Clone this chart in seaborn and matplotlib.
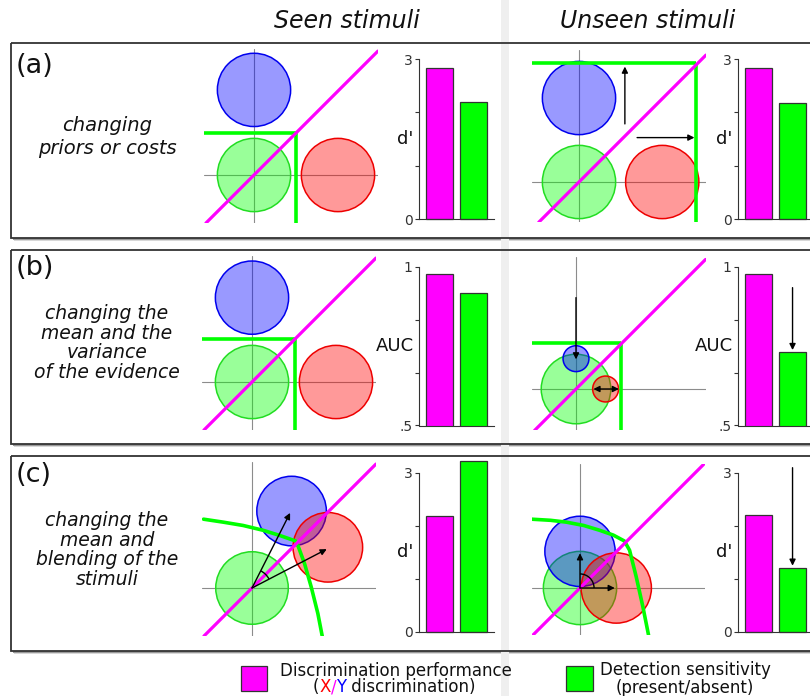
import numpy as np
import pandas as pd
import matplotlib
matplotlib.use("Agg")
import matplotlib.pyplot as plt
from matplotlib.patches import Rectangle, Circle, Arc
import seaborn as sns

# ---------------- data ----------------
col_titles = ["Seen stimuli", "Unseen stimuli"]
panel_tags = ["(a)", "(b)", "(c)"]
panel_texts = ["changing\npriors or costs",
               "changing the\nmean and the\nvariance\nof the evidence",
               "changing the\nmean and\nblending of the\nstimuli"]
bar_categories = ["Discrimination", "Detection"]
bar_metric = ["d'", "AUC", "d'"]
metric_ticks = {"d'": [0, 1, 2, 3], "AUC": [0.5, 2 / 3, 5 / 6, 1.0]}
metric_ticklabels = {"d'": ["0", "", "", "3"], "AUC": [".5", "", "", "1"]}
metric_lim = {"d'": (0, 3), "AUC": (0.5, 1.0)}
seen_discrim = [2.83, 0.977, 2.19]
seen_detect = [2.19, 0.916, 3.22]
unseen_discrim = [2.83, 0.977, 2.20]
unseen_detect = [2.18, 0.730, 1.20]
unseen_arrow_from = [None, 0.934, 3.10]

# evidence-space distributions: (x, y, radius)
seen_green = [(0, 0, 0.99), (0, 0, 0.99), (0, 0, 0.98)]
seen_blue = [(0, 2.30, 0.99), (0, 2.28, 0.99), (1.07, 2.08, 0.94)]
seen_red = [(2.27, 0, 0.99), (2.27, 0, 0.99), (2.05, 1.10, 0.94)]
unseen_green = [(0, 0, 0.99), (0, 0, 0.94), (0, 0, 0.99)]
unseen_blue = [(0, 2.27, 0.99), (0, 0.82, 0.35), (0, 0.99, 0.95)]
unseen_red = [(2.25, 0, 0.99), (0.80, 0, 0.35), (0.98, 0, 0.95)]
# detection criterion corner (x, y) for rows a, b
seen_criterion = [(1.14, 1.14), (1.17, 1.17), None]
unseen_criterion = [(3.17, 3.21), (1.21, 1.23), None]
# curved detection criterion for row c
seen_curve_x = [-1.31, -0.78, -0.24, 0.30, 0.75, 1.18, 1.24, 1.42, 1.60, 1.78, 1.90]
seen_curve_y = [1.86, 1.78, 1.69, 1.56, 1.42, 1.27, 1.15, 0.66, 0.03, -0.69, -1.31]
unseen_curve_x = [-1.31, -0.80, -0.37, 0.10, 0.53, 0.90, 1.20, 1.34, 1.52, 1.70, 1.86]
unseen_curve_y = [1.86, 1.83, 1.78, 1.69, 1.56, 1.43, 1.27, 1.02, 0.30, -0.51, -1.31]
legend_labels = ["Discrimination performance", "Detection sensitivity\n(present/absent)"]

# ---------------- style ----------------
sns.set_style("ticks")
plt.rcParams["font.family"] = ["DejaVu Sans"]
MAGENTA = "#ff00ff"
LIME = "#00ff00"
W, H = 810, 696
U = 37.0

fig = plt.figure(figsize=(W / 100, H / 100), dpi=100)
bg = fig.add_axes([0, 0, 1, 1])
bg.set_xlim(0, W)
bg.set_ylim(H, 0)
bg.axis("off")


def px_axes(l, t, w, h):
    return fig.add_axes([l / W, 1 - (t + h) / H, w / W, h / H])


# panel boxes with shadow
panel_tops = [43, 250, 456]
panel_h = [195, 194, 195]
for top, h in zip(panel_tops, panel_h):
    bg.add_patch(Rectangle((14, top + 3), 830, h, facecolor="#d8d8d8", edgecolor="none", zorder=1))
    bg.add_patch(Rectangle((12.5, top + 1.5), 830, h, facecolor="#9a9a9a", edgecolor="none", zorder=1.1))
    bg.add_patch(Rectangle((11, top), 830, h, facecolor="white", edgecolor="none", zorder=1.2))
bg.add_patch(Rectangle((501, 0), 8, H, facecolor="#efefef", edgecolor="none", zorder=1.3))
for top, h in zip(panel_tops, panel_h):
    bg.add_patch(Rectangle((11, top), 830, h, facecolor="none", edgecolor="#333333", lw=1.3, zorder=1.4))

# titles
bg.text(347, 21, col_titles[0], fontsize=17, style="italic", ha="center", va="center", color="#111")
bg.text(648, 21, col_titles[1], fontsize=17, style="italic", ha="center", va="center", color="#111")

tag_y = [66, 268, 475]
txt_y = [137, 343, 550]
txt_fs = [14, 13.5, 13.5]
txt_ls = [1.3, 1.04, 1.04]
for i in range(3):
    bg.text(16, tag_y[i], panel_tags[i], fontsize=19.5, ha="left", va="center", color="#111")
    bg.text(107, txt_y[i], panel_texts[i], fontsize=txt_fs[i], style="italic", ha="center",
            va="center", multialignment="center", linespacing=txt_ls[i], color="#111")

# ---------------- diagrams ----------------
seen_origin = [(254, 175), (252, 382), (252, 588)]
unseen_origin = [(579, 182), (576, 389), (580, 588)]
seen_ext = [(-1.35, 3.35, -1.30, 3.40)] * 3
unseen_ext = [(-1.27, 3.43, -1.09, 3.56), (-1.19, 3.50, -1.12, 3.57), (-1.31, 3.38, -1.28, 3.34)]


def arrow(ax, start, end, style="-|>"):
    ax.annotate("", xy=end, xytext=start,
                arrowprops=dict(arrowstyle=style, color="black", lw=1.0, mutation_scale=9,
                                shrinkA=0, shrinkB=0), zorder=6)


def diagram(origin, ext, green, blue, red, crit=None, curve=None):
    ox, oy = origin
    x0, x1, y0, y1 = ext
    ax = px_axes(ox + x0 * U, oy - y1 * U, (x1 - x0) * U, (y1 - y0) * U)
    ax.set_xlim(x0, x1)
    ax.set_ylim(y0, y1)
    ax.axis("off")
    ax.patch.set_visible(False)
    ax.plot([x0, x1], [0, 0], color="#8c8c8c", lw=0.8, zorder=1)
    ax.plot([0, 0], [y0, y1], color="#8c8c8c", lw=0.8, zorder=1)
    for (cx, cy, r), fc, ec in [(green, (0, 1, 0, 0.4), "#22dd22"),
                               (blue, (0, 0, 1, 0.4), "#0000ee"),
                               (red, (1, 0, 0, 0.4), "#ee0000")]:
        ax.add_patch(Circle((cx, cy), r, facecolor=fc, edgecolor=ec, lw=1.1, zorder=2))
    if crit is not None:
        cx, cy = crit
        ax.plot([x0, cx], [cy, cy], color=LIME, lw=2.6, solid_capstyle="butt", zorder=4)
        ax.plot([cx, cx], [y0, cy], color=LIME, lw=2.6, solid_capstyle="butt", zorder=4)
    if curve is not None:
        ax.plot(curve[0], curve[1], color=LIME, lw=2.6, zorder=4)
    a, b = max(x0, y0), min(x1, y1)
    ax.plot([a, b], [a, b], color=MAGENTA, lw=2.3, zorder=5)
    return ax


for i in range(3):
    curve = (seen_curve_x, seen_curve_y) if i == 2 else None
    ax = diagram(seen_origin[i], seen_ext[i], seen_green[i], seen_blue[i], seen_red[i],
                 seen_criterion[i], curve)
    if i == 2:
        arrow(ax, (0, 0), (1.03, 2.03))
        arrow(ax, (0, 0), (2.02, 1.05))
        ax.add_patch(Arc((0, 0), 1.04, 1.04, theta1=27.5, theta2=63, color="black", lw=1.0, zorder=6))
    curve = (unseen_curve_x, unseen_curve_y) if i == 2 else None
    ax = diagram(unseen_origin[i], unseen_ext[i], unseen_green[i], unseen_blue[i], unseen_red[i],
                 unseen_criterion[i], curve)
    if i == 0:
        arrow(ax, (1.24, 1.57), (1.24, 3.12))
        arrow(ax, (1.57, 1.20), (3.12, 1.20))
    elif i == 1:
        arrow(ax, (0, 2.47), (0, 0.80))
        arrow(ax, (0.47, 0), (1.16, 0), style="<|-|>")
    else:
        arrow(ax, (0, 0), (0, 0.94))
        arrow(ax, (0, 0), (0.94, 0))
        ax.add_patch(Arc((0, 0), 0.76, 0.76, theta1=0, theta2=90, color="black", lw=1.0, zorder=6))

# ---------------- bar charts ----------------
bar_top = [59, 266.7, 473]
bar_bot = [219, 425.5, 631.5]


def bars(left, i, discrim, detect, arrow_from=None):
    metric = bar_metric[i]
    ax = px_axes(left, bar_top[i], 75, bar_bot[i] - bar_top[i])
    ax.patch.set_visible(False)
    df = pd.DataFrame({"cat": bar_categories, "val": [discrim, detect]})
    sns.barplot(data=df, x="cat", y="val", hue="cat", palette=[MAGENTA, LIME], legend=False,
                ax=ax, width=0.78, edgecolor="#333333", linewidth=0.9, saturation=1)
    if metric == "d'":
        for p in ax.patches:
            p.set_clip_on(False)
    ax.set_xlim(-0.6, 1.6)
    ax.set_ylim(*metric_lim[metric])
    ax.set_yticks(metric_ticks[metric])
    ax.set_yticklabels(metric_ticklabels[metric])
    ax.set_xticks([])
    ax.set_xlabel("")
    ax.set_ylabel(metric, rotation=0, fontsize=13, ha="right", va="center", color="#111")
    ax.yaxis.set_label_coords(-0.07, 0.5)
    sns.despine(ax=ax)
    for s in ["left", "bottom"]:
        ax.spines[s].set_color("#333333")
        ax.spines[s].set_linewidth(0.8)
    ax.tick_params(axis="y", length=3, width=0.8, labelsize=10, colors="#333333", pad=1.5)
    if arrow_from is not None:
        ax.annotate("", xy=(1, detect + (metric_lim[metric][1] - metric_lim[metric][0]) * 0.015),
                    xytext=(1, arrow_from),
                    arrowprops=dict(arrowstyle="-|>", color="black", lw=1.0, mutation_scale=9,
                                    shrinkA=0, shrinkB=0), annotation_clip=False)


for i in range(3):
    bars(419, i, seen_discrim[i], seen_detect[i])
    bars(738, i, unseen_discrim[i], unseen_detect[i], unseen_arrow_from[i])

# ---------------- legend ----------------
bg.add_patch(Rectangle((241, 666), 26, 25, facecolor=MAGENTA, edgecolor="#333333", lw=0.9, zorder=3))
bg.add_patch(Rectangle((566, 666), 27, 25, facecolor=LIME, edgecolor="#333333", lw=0.9, zorder=3))
bg.text(395.5, 671, legend_labels[0], fontsize=12, ha="center", va="center", color="#111", zorder=3)
bg.text(685, 679, legend_labels[1], fontsize=12, ha="center", va="center", color="#111",
        linespacing=0.95, zorder=3)

parts = [("(", "#111"), ("X", "#ff0000"), ("/", MAGENTA), ("Y", "#0000ff"), (" discrimination)", "#111")]
t0 = bg.text(0, 687.5, parts[0][0], color=parts[0][1], fontsize=12, ha="left", va="center", zorder=3)
pieces = [t0]
prev = t0
for s, c in parts[1:]:
    t = bg.annotate(s, xy=(1, 0.5), xycoords=prev, color=c, fontsize=12, ha="left", va="center", zorder=3)
    pieces.append(t)
    prev = t
fig.canvas.draw()
r = fig.canvas.get_renderer()
x_l = pieces[0].get_window_extent(r).x0
x_r = pieces[-1].get_window_extent(r).x1
t0.set_x(394.5 - (x_r - x_l) / 2)

fig.savefig("out.png", dpi=100)
